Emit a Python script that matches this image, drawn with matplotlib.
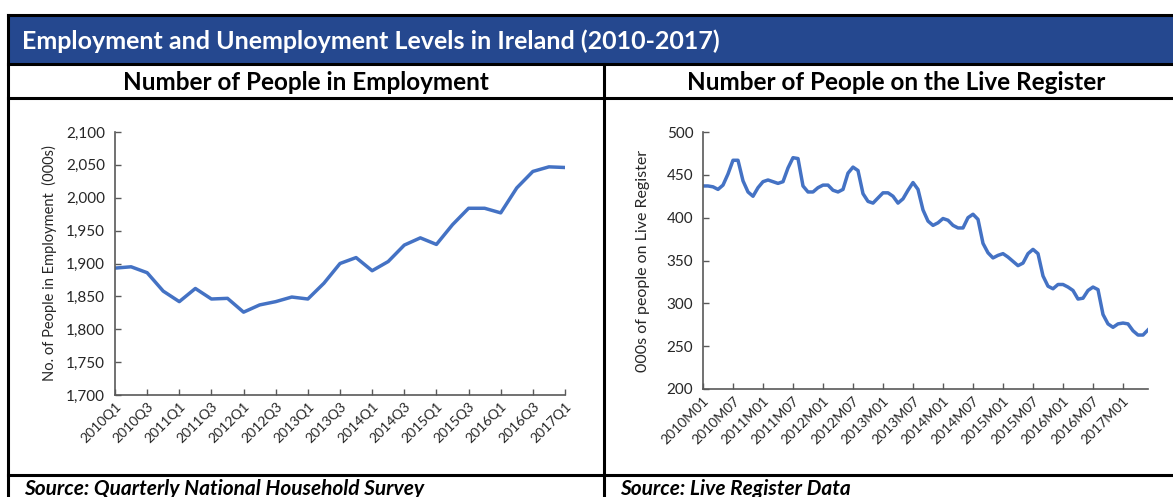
import numpy as np
import matplotlib
matplotlib.use("Agg")
import matplotlib.pyplot as plt
from matplotlib.patches import Rectangle
from matplotlib.lines import Line2D

plt.rcParams['font.family'] = ['Lato', 'DejaVu Sans']

# data
quarters = [f"{y}Q{q}" for y in range(2010, 2018) for q in range(1, 5)][:29]
employment = [1893, 1895, 1886, 1858, 1842, 1862, 1846, 1847,
              1826, 1837, 1842, 1849, 1846, 1870, 1900, 1909,
              1889, 1903, 1928, 1939, 1929, 1959, 1984, 1984,
              1977, 2015, 2040, 2047, 2046]

months = [f"{y}M{m:02d}" for y in range(2010, 2018) for m in range(1, 13)][:90]
live_register = [437, 437, 436, 433, 438, 451, 467, 467, 443, 430, 425, 435,
                 442, 444, 442, 440, 442, 458, 470, 469, 437, 430, 430, 435,
                 438, 438, 432, 430, 433, 452, 459, 455, 428, 419, 417, 423,
                 429, 429, 425, 417, 422, 432, 441, 433, 409, 396, 391, 394,
                 399, 397, 391, 388, 388, 400, 404, 398, 370, 359, 353, 356,
                 358, 354, 349, 344, 347, 358, 363, 358, 332, 320, 317, 322,
                 322, 319, 315, 305, 306, 315, 319, 316, 287, 276, 272, 276,
                 277, 276, 268, 263, 263, 269]

W, H = 1173, 497
fig = plt.figure(figsize=(W / 100, H / 100), dpi=100)

def fx(px):
    return px / W

def fy(py):
    return 1 - py / H

# table frame
fig.patches.append(Rectangle((fx(8), fy(64)), fx(1200) - fx(8), fy(15) - fy(64),
                             transform=fig.transFigure, facecolor='#25488F',
                             edgecolor='none', zorder=0))
lw = 2.2
for py in (15, 64, 98, 475):
    fig.lines.append(Line2D([fx(8), fx(1200)], [fy(py), fy(py)], color='black',
                            lw=lw, transform=fig.transFigure))
fig.lines.append(Line2D([fx(8), fx(8)], [fy(15), fy(520)], color='black',
                        lw=lw, transform=fig.transFigure))
fig.lines.append(Line2D([fx(604), fx(604)], [fy(64), fy(520)], color='black',
                        lw=lw, transform=fig.transFigure))

fig.text(fx(22), fy(41), "Employment and Unemployment Levels in Ireland (2010-2017)",
         color='white', fontsize=18, fontweight='bold', va='center', ha='left')
fig.text(fx(306), fy(82), "Number of People in Employment",
         color='black', fontsize=17.5, fontweight='bold', va='center', ha='center')
fig.text(fx(896), fy(82), "Number of People on the Live Register",
         color='black', fontsize=17.5, fontweight='bold', va='center', ha='center')
fig.text(fx(24), fy(489), "Source: Quarterly National Household Survey",
         color='black', fontsize=15, fontweight='bold', style='italic', va='center')
fig.text(fx(620), fy(489), "Source: Live Register Data",
         color='black', fontsize=15, fontweight='bold', style='italic', va='center')

line_color = '#4472C4'
axis_color = '#595959'
text_color = '#262626'

def style(ax):
    for s in ('top', 'right'):
        ax.spines[s].set_visible(False)
    for s in ('left', 'bottom'):
        ax.spines[s].set_color(axis_color)
        ax.spines[s].set_linewidth(1.2)
    ax.tick_params(direction='in', length=4, width=1, color=axis_color,
                   labelcolor=text_color)
    ax.tick_params(axis='y', labelsize=11, pad=7)
    ax.tick_params(axis='x', labelsize=10, pad=4)

# left chart
ax1 = fig.add_axes([fx(115), fy(395), fx(565) - fx(115), fy(132) - fy(395)])
x1 = np.arange(len(quarters))
ax1.plot(x1, employment, color=line_color, lw=2.5, solid_joinstyle='round')
ax1.set_xlim(0, len(quarters) - 1)
ax1.set_ylim(1700, 2100)
ax1.set_yticks(range(1700, 2101, 50))
ax1.set_yticklabels([f"{v:,}" for v in range(1700, 2101, 50)])
ax1.set_xticks(x1[::2])
ax1.set_xticklabels(quarters[::2], rotation=45, ha='right', rotation_mode='anchor')
ax1.set_ylabel("No. of People in Employment  (000s)", fontsize=10.5, color=text_color)
ax1.yaxis.set_label_coords(-0.129, 0.5)
style(ax1)

# right chart
ax2 = fig.add_axes([fx(703), fy(389), fx(1148) - fx(703), fy(132) - fy(389)])
x2 = np.arange(len(months))
ax2.plot(x2, live_register, color=line_color, lw=2.5, solid_joinstyle='round')
ax2.set_xlim(0, len(months) - 1)
ax2.set_ylim(200, 500)
ax2.set_yticks(range(200, 501, 50))
ax2.set_xticks(x2[::6])
ax2.set_xticklabels(months[::6], rotation=45, ha='right', rotation_mode='anchor')
ax2.set_ylabel("000s of people on Live Register", fontsize=11.5, color=text_color)
ax2.yaxis.set_label_coords(-0.119, 0.5)
style(ax2)

fig.savefig("out.png", dpi=100)
